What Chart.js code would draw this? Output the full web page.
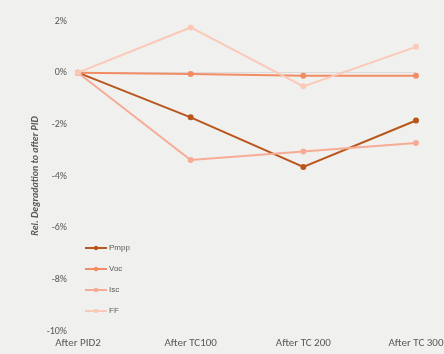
<!DOCTYPE html>
<html>
<head>
<meta charset="utf-8">
<script src="https://cdn.jsdelivr.net/npm/chart.js@4/dist/chart.umd.min.js"></script>
<style>
  html, body { margin: 0; padding: 0; background: #f0f0ee; }
  #wrap { width: 444px; height: 354px; position: relative; }
</style>
</head>
<body>
<div id="wrap"><canvas id="degChart"></canvas></div>
<script>
var categories = ['After PID2', 'After TC100', 'After TC 200', 'After TC 300'];
var pmpp = [0, -1.73, -3.65, -1.85];
var voc = [0, -0.05, -0.12, -0.12];
var isc = [0, -3.38, -3.05, -2.72];
var ff = [0, 1.75, -0.53, 1.0];
var yTicks = [-10, -8, -6, -4, -2, 0, 2];

var seriesNames = ['Pmpp', 'Voc', 'Isc', 'FF'];
var seriesColors = ['#b8561c', '#f28c64', '#f7ab95', '#fbc9b8'];

function makeSet(i, values) {
    return {
        label: seriesNames[i],
        data: values,
        order: 3 - i, // later series painted on top
        borderColor: seriesColors[i],
        backgroundColor: seriesColors[i],
        borderWidth: 2,
        pointRadius: 2,
        pointHoverRadius: 2,
        tension: 0
    };
}

// legend sits inside the plot, bottom-left, like the original
var insideLegend = {
    id: 'insideLegend',
    afterDraw: function(chart) {
        var c = chart.ctx;
        var left = chart.chartArea.left + 7;
        var ys = [248, 269, 290, 311];
        c.save();
        chart.data.datasets.forEach(function(ds, i) {
            var y = ys[i];
            c.strokeStyle = ds.borderColor;
            c.lineWidth = 2;
            c.beginPath();
            c.moveTo(left, y);
            c.lineTo(left + 22, y);
            c.stroke();
            c.fillStyle = ds.borderColor;
            c.beginPath();
            c.arc(left + 11, y, 2.2, 0, Math.PI * 2);
            c.fill();
            c.fillStyle = '#595959';
            c.font = '8px "Liberation Sans", Arial, sans-serif';
            c.textBaseline = 'middle';
            c.textAlign = 'left';
            c.fillText(ds.label, left + 24, y);
        });
        c.restore();
    }
};

var ctx = document.getElementById('degChart').getContext('2d');
var degChart = new Chart(ctx, {
    type: 'line',
    data: {
        labels: categories,
        datasets: [makeSet(0, pmpp), makeSet(1, voc), makeSet(2, isc), makeSet(3, ff)]
    },
    options: {
        responsive: true,
        maintainAspectRatio: false,
        animation: false,
        layout: { padding: { top: 21, right: 28, bottom: 0, left: 0 } },
        plugins: {
            legend: { display: false },
            tooltip: { enabled: false }
        },
        scales: {
            x: {
                offset: false,
                grid: { display: false, drawTicks: false },
                border: { display: false },
                ticks: {
                    color: '#595959',
                    padding: 6,
                    maxRotation: 0,
                    autoSkip: false,
                    font: { family: 'Calibri, Carlito, "Liberation Sans", sans-serif', size: 11 }
                },
                afterFit: function(s) { s.paddingLeft = 0; s.paddingRight = 0; s.height = 23; }
            },
            y: {
                min: -10,
                max: 2,
                afterBuildTicks: function(s) { s.ticks = yTicks.map(function(v) { return { value: v }; }); },
                grid: {
                    drawTicks: false,
                    color: function(c) { return c.tick && c.tick.value === 0 ? '#dcdcdc' : 'rgba(0,0,0,0)'; },
                    lineWidth: 1
                },
                border: { display: false },
                ticks: {
                    color: '#595959',
                    padding: 11,
                    font: { family: 'Calibri, Carlito, "Liberation Sans", sans-serif', size: 10 },
                    callback: function(v) { return v + '%'; }
                },
                title: {
                    display: true,
                    text: 'Rel. Degradation to after PID',
                    color: '#595959',
                    padding: { top: 29, bottom: 0 },
                    font: { family: 'Calibri, Carlito, "Liberation Sans", sans-serif', size: 10, weight: 'bold', style: 'italic' }
                },
                afterFit: function(s) { s.paddingTop = 0; s.paddingBottom = 0; s.width = 78; }
            }
        }
    },
    plugins: [insideLegend]
});
</script>
</body>
</html>
